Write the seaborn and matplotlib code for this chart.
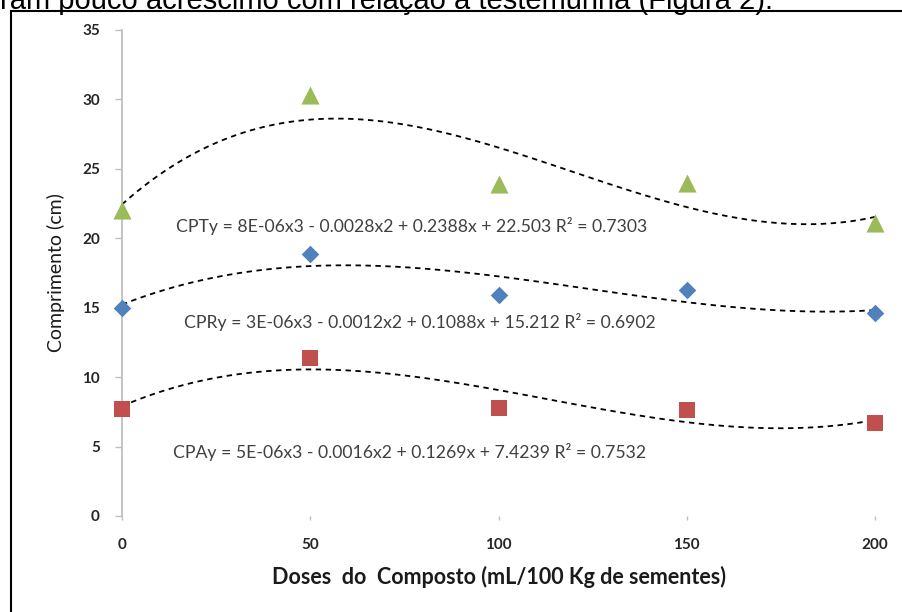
import numpy as np
import pandas as pd
import matplotlib
matplotlib.use('Agg')
import matplotlib.pyplot as plt
from matplotlib.patches import Rectangle
import seaborn as sns

# values
doses = [0, 50, 100, 150, 200]
cpt = [22.0, 30.3, 23.9, 24.0, 21.1]
cpr = [15.0, 18.9, 15.9, 16.3, 14.6]
cpa = [7.7, 11.4, 7.8, 7.6, 6.7]

eq_cpt = "CPTy = 8E-06x3 - 0.0028x2 + 0.2388x + 22.503 R\u00b2 = 0.7303"
eq_cpr = "CPRy = 3E-06x3 - 0.0012x2 + 0.1088x + 15.212 R\u00b2 = 0.6902"
eq_cpa = "CPAy = 5E-06x3 - 0.0016x2 + 0.1269x + 7.4239 R\u00b2 = 0.7532"

x_ticks = [0, 50, 100, 150, 200]
y_ticks = [0, 5, 10, 15, 20, 25, 30, 35]

df = pd.DataFrame({'dose': doses, 'CPT': cpt, 'CPR': cpr, 'CPA': cpa})

sns.set_theme(style='white')
plt.rcParams['font.family'] = ['Lato', 'DejaVu Sans']

fig = plt.figure(figsize=(9.03, 6.12), dpi=100)
ax = fig.add_axes([0.1351, 0.1569, 0.8339, 0.7941])

series = [('CPT', '^', '#9BBB59', 170),
          ('CPR', 'D', '#4F81BD', 80),
          ('CPA', 's', '#C0504D', 140)]

for col, mk, c, sz in series:
    sns.regplot(data=df, x='dose', y=col, order=3, ci=None, scatter=False, ax=ax,
                color='black', line_kws=dict(lw=1.3, ls=(0, (3, 2.5))))
    sns.scatterplot(data=df, x='dose', y=col, marker=mk, s=sz, color=c,
                    edgecolor=c, linewidth=0, ax=ax, clip_on=False, zorder=5)

ax.text(77.0, 20.9, eq_cpt, ha='center', va='center', fontsize=12.7, color='#404040')
ax.text(79.0, 14.0, eq_cpr, ha='center', va='center', fontsize=12.7, color='#404040')
ax.text(76.5, 4.6, eq_cpa, ha='center', va='center', fontsize=12.7, color='#404040')

ax.set_xlim(0, 200)
ax.set_ylim(0, 35)
ax.set_xticks(x_ticks)
ax.set_yticks(y_ticks)
ax.tick_params(axis='y', length=5, width=1, color='#bfbfbf', direction='out', pad=11,
               labelsize=11, labelcolor='#262626', left=True)
ax.tick_params(axis='x', length=3, width=1, color='#bfbfbf', direction='out', pad=13,
               labelsize=11, labelcolor='#262626', bottom=True)
for lab in ax.get_xticklabels() + ax.get_yticklabels():
    lab.set_fontweight('bold')

for s in ['top', 'right', 'bottom']:
    ax.spines[s].set_visible(False)
ax.spines['left'].set_color('#bfbfbf')
ax.spines['left'].set_linewidth(1.3)

ax.set_xlabel("Doses  do  Composto (mL/100 Kg de sementes)", fontsize=15.5,
              fontweight='bold', color='#1a1a1a', labelpad=10)
ax.set_ylabel("Comprimento (cm)", fontsize=14, color='#1a1a1a', labelpad=12)

# frame of the pasted chart and the cut line of text above it
fig.patches.append(Rectangle((11 / 903, -0.1), 1.2, 1 - 11 / 612 + 0.1,
                             transform=fig.transFigure, fill=False,
                             ec='black', lw=1.5))
fig.text(0.0, 1 - 9 / 612, "ram pouco acréscimo com relação à testemunha (Figura 2).",
         fontsize=21, family=['Liberation Sans', 'DejaVu Sans'],
         va='baseline', ha='left', color='black')

fig.savefig('out.png', dpi=100)
